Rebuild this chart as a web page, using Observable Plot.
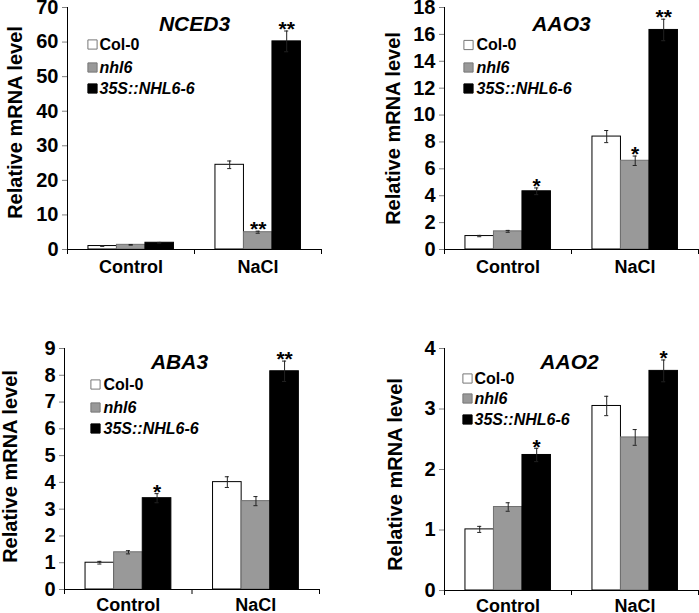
<!DOCTYPE html>
<html><head><meta charset="utf-8">
<script src="https://cdn.jsdelivr.net/npm/d3@7"></script>
<script src="https://cdn.jsdelivr.net/npm/@observablehq/plot@0.6"></script>
<style>
body{margin:0;background:#fff;}
#wrap{position:relative;width:699px;height:613px;overflow:hidden;background:#fff;}
.panel{position:absolute;}
</style></head><body><div id="wrap"></div>
<script>
// ---- data ----
const genes = ["NCED3", "AAO3", "ABA3", "AAO2"];
const groups = ["Control", "NaCl"];
const genotypes = ["Col-0", "nhl6", "35S::NHL6-6"];
// order: Control(Col-0, nhl6, 35S), NaCl(Col-0, nhl6, 35S)
const nced3Values = [1.0, 1.35, 1.95, 24.5, 5.0, 60.2];
const nced3Errors = [0.1, 0.1, 0.1, 1.1, 0.3, 3.0];
const nced3Stars  = ["", "", "", "", "**", "**"];
const nced3Ticks  = [0, 10, 20, 30, 40, 50, 60, 70];

const aao3Values = [1.0, 1.35, 4.33, 8.4, 6.6, 16.33];
const aao3Errors = [0.05, 0.07, 0.25, 0.45, 0.35, 0.8];
const aao3Stars  = ["", "", "*", "", "*", "**"];
const aao3Ticks  = [0, 2, 4, 6, 8, 10, 12, 14, 16, 18];

const aba3Values = [1.0, 1.39, 3.41, 4.01, 3.3, 8.15];
const aba3Errors = [0.05, 0.06, 0.17, 0.2, 0.17, 0.38];
const aba3Stars  = ["", "", "*", "", "", "**"];
const aba3Ticks  = [0, 1, 2, 3, 4, 5, 6, 7, 8, 9];

const aao2Values = [1.01, 1.38, 2.24, 3.05, 2.53, 3.63];
const aao2Errors = [0.05, 0.07, 0.11, 0.16, 0.13, 0.18];
const aao2Stars  = ["", "", "*", "", "", "*"];
const aao2Ticks  = [0, 1, 2, 3, 4];

const yTitle = "Relative mRNA level";

// ---- layout / style ----
const FONT = '"Liberation Sans", Arial, Helvetica, sans-serif';
const OFF = 0.165, BW = 0.2244, CAP = 0.016;
const fills = ["#ffffff", "#999999", "#000000"];
const strokes = ["#000000", "#707070", "#000000"];
const legFills = ["#ffffff", "#999999", "#000000"];
const legStrokes = ["#777777", "#777777", "#000000"];
const legStyles = ["normal", "italic", "italic"];

const panels = [
  {gene: genes[0], values: nced3Values, errors: nced3Errors, stars: nced3Stars, ticks: nced3Ticks,
   left: 0, top: 0, width: 350, height: 300, ml: 67, mr: 29, mt: 7, mb: 51, catDy: 18,
   title: [194, 24], ytitle: [15, 122], legSq: 92, legTx: 99, legRows: [44, 67, 88]},
  {gene: genes[1], values: aao3Values, errors: aao3Errors, stars: aao3Stars, ticks: aao3Ticks,
   left: 350, top: 0, width: 349, height: 300, ml: 94, mr: 1, mt: 7, mb: 51, catDy: 18,
   title: [211, 24], ytitle: [43, 128], legSq: 118, legTx: 126, legRows: [44.5, 67, 88]},
  {gene: genes[2], values: aba3Values, errors: aba3Errors, stars: aba3Stars, ticks: aba3Ticks,
   left: 0, top: 300, width: 350, height: 313, ml: 64, mr: 31, mt: 48, mb: 24, catDy: 16,
   title: [179, 62], ytitle: [10, 166], legSq: 95, legTx: 103, legRows: [84, 107, 128]},
  {gene: genes[3], values: aao2Values, errors: aao2Errors, stars: aao2Stars, ticks: aao2Ticks,
   left: 350, top: 300, width: 349, height: 313, ml: 94, mr: 1, mt: 48, mb: 23, catDy: 16,
   title: [219, 62], ytitle: [45, 174], legSq: 117, legTx: 124, legRows: [78, 98, 119]}
];

function makePanel(c) {
  const rows = [];
  groups.forEach((g, gi) => genotypes.forEach((t, ti) => {
    const i = gi * 3 + ti;
    const x1 = gi + OFF + ti * BW;
    rows.push({group: g, genotype: t, gt: ti, value: c.values[i], err: c.errors[i], star: c.stars[i],
      x1, x2: x1 + BW, xc: x1 + BW / 2});
  }));
  const rel = (x, y) => ({frameAnchor: "top-left", dx: x - c.ml, dy: y - c.mt});
  const marks = [];
  genotypes.forEach((t, ti) => {
    marks.push(Plot.rectY(rows.filter(d => d.gt === ti), {x1: "x1", x2: "x2", y: "value",
      fill: fills[ti], stroke: strokes[ti], strokeWidth: 1}));
  });
  // error bars
  marks.push(Plot.ruleX(rows, {x: "xc", y1: d => d.value - d.err, y2: d => d.value + d.err, stroke: "#222", strokeWidth: 1}));
  marks.push(Plot.ruleY(rows, {y: d => d.value + d.err, x1: d => d.xc - CAP, x2: d => d.xc + CAP, stroke: "#222", strokeWidth: 1}));
  marks.push(Plot.ruleY(rows, {y: d => d.value - d.err, x1: d => d.xc - CAP, x2: d => d.xc + CAP, stroke: "#222", strokeWidth: 1}));
  // stars
  marks.push(Plot.text(rows.filter(d => d.star), {x: "xc", y: d => d.value + d.err, text: "star",
    dy: -1.5, fontSize: 21, fontWeight: "bold", fontFamily: FONT, fill: "black", lineAnchor: "middle"}));
  // axes
  marks.push(Plot.ruleY([0], {stroke: "black"}));
  marks.push(Plot.ruleX([0], {stroke: "black"}));
  marks.push(Plot.axisY({ticks: c.ticks, tickSize: 5, tickPadding: 4, label: null, tickFormat: d => String(d),
    fontSize: 20, fontWeight: "bold", fontFamily: FONT, fill: "black", stroke: "#808080", letterSpacing: 1}));
  marks.push(Plot.axisX({ticks: [0, 1, 2], tickSize: 5, tickFormat: () => "", label: null, stroke: "black"}));
  marks.push(Plot.text(groups, {x: (d, i) => i + 0.5, text: d => d, frameAnchor: "bottom", dy: c.catDy,
    lineAnchor: "middle", fontSize: 18, fontWeight: "bold", fontFamily: FONT, fill: "black", letterSpacing: 1}));
  // gene title
  marks.push(Plot.text([c.gene], {text: d => d, ...rel(c.title[0], c.title[1]), textAnchor: "middle", lineAnchor: "middle",
    fontSize: 21, fontWeight: "bold", fontStyle: "italic", fontFamily: FONT, fill: "black"}));
  // y title
  marks.push(Plot.text([yTitle], {text: d => d, ...rel(c.ytitle[0], c.ytitle[1]), rotate: -90, textAnchor: "middle",
    lineAnchor: "middle", fontSize: 20, fontWeight: "bold", fontFamily: FONT, fill: "black"}));
  // legend
  genotypes.forEach((t, ti) => {
    marks.push(Plot.dot([t], {...rel(c.legSq, c.legRows[ti]), symbol: "square", r: 5.2,
      fill: legFills[ti], stroke: legStrokes[ti], strokeWidth: 1}));
    marks.push(Plot.text([t], {text: d => d, ...rel(c.legTx, c.legRows[ti]), textAnchor: "start", lineAnchor: "middle",
      fontSize: 16, fontWeight: "bold", fontStyle: legStyles[ti], fontFamily: FONT, fill: "black", letterSpacing: 0.5}));
  });

  const svg = Plot.plot({
    width: c.width, height: c.height,
    marginLeft: c.ml, marginRight: c.mr, marginTop: c.mt, marginBottom: c.mb,
    x: {type: "linear", domain: [0, 2], axis: null},
    y: {domain: [c.ticks[0], c.ticks[c.ticks.length - 1]], axis: null},
    style: {fontFamily: FONT, background: "white", overflow: "visible"},
    marks
  });
  const div = document.createElement("div");
  div.className = "panel";
  div.style.left = c.left + "px";
  div.style.top = c.top + "px";
  div.appendChild(svg);
  return div;
}

const wrap = document.getElementById("wrap");
panels.forEach(p => wrap.appendChild(makePanel(p)));
</script>
</body></html>
